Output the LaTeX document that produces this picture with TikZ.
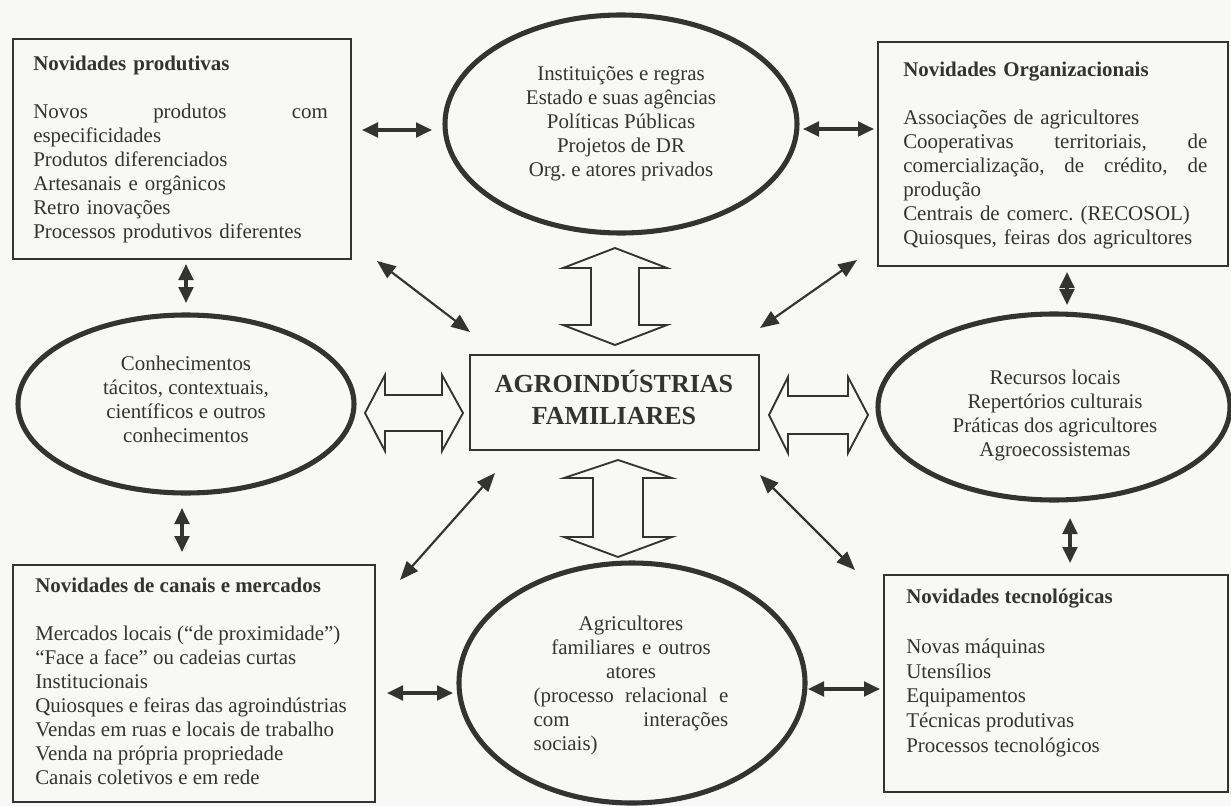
\documentclass[tikz,border=0pt]{standalone}
\usepackage{fontspec}
\setmainfont{Liberation Serif}
\usetikzlibrary{arrows.meta,shapes.geometric,fit,calc}
\definecolor{ink}{HTML}{333333}
\definecolor{paper}{HTML}{F8F8F6}
\frenchspacing
\begin{document}
\begin{tikzpicture}[x=0.75pt,y=-0.75pt,
  box/.style={draw=ink,line width=1.6pt,inner sep=0pt},
  ell/.style={draw=ink,line width=3.8pt,ellipse,inner sep=0pt},
  txt/.style={text=ink,font=\fontsize{15.7}{18}\selectfont,inner sep=0pt,align=left,anchor=north west},
  ctxt/.style={text=ink,font=\fontsize{15.7}{18}\selectfont,inner sep=0pt,align=center},
  link/.style={draw=ink,line width=2.3pt,{Triangle[length=12pt,width=11pt]}-{Triangle[length=12pt,width=11pt]}},
  diag/.style={draw=ink,line width=1.6pt,{Triangle[length=14pt,width=11pt]}-{Triangle[length=14pt,width=11pt]}},
  blk/.style={draw=ink,line width=1.4pt,fill=paper,line join=miter}]
\fill[paper] (0,0) rectangle (1231,806);
\useasboundingbox (0,0) rectangle (1231,806);

% boxes
\node[box,fit={(13,39) (351,259)}] (np) {};
\node[box,fit={(878,42) (1228,266)}] (no) {};
\node[box,fit={(13,565) (375,802)}] (nc) {};
\node[box,fit={(884,575) (1228,792)}] (nt) {};
\node[box,fit={(470,355) (759,450)}] (ai) {};

% ellipses
\node[ell,minimum width=352*0.75pt,minimum height=218*0.75pt] (inst) at (621,124) {};
\node[ell,minimum width=336*0.75pt,minimum height=178*0.75pt] (conh) at (186,404) {};
\node[ell,minimum width=352*0.75pt,minimum height=186*0.75pt] (recu) at (1054,407) {};
\node[ell,minimum width=346*0.75pt,minimum height=240*0.75pt] (agri) at (632,683) {};

% texts
\node[txt,text width=221pt] (npt) at (33,53) {\strut\textbf{Novidades produtivas}\\ \mbox{}\\
 Novos\hfill produtos\hfill com\\ especificidades\\ Produtos diferenciados\\ Artesanais e orgânicos\\
 Retro inovações\\ Processos produtivos diferentes};
\node[txt,text width=228pt] (not) at (903,59) {\strut\textbf{Novidades Organizacionais}\\ \mbox{}\\
 Associações de agricultores\\ Cooperativas\hfill territoriais,\hfill de\\
 comercialização,\hfill de\hfill crédito,\hfill de\\ produção\\
 Centrais de comerc. (RECOSOL)\\ Quiosques, feiras dos agricultores};
\node[txt] (nct) at (35,575) {\strut\textbf{Novidades de canais e mercados}\\ \mbox{}\\
 Mercados locais (“de proximidade”)\\ “Face a face” ou cadeias curtas\\ Institucionais\\
 Quiosques e feiras das agroindústrias\\ Vendas em ruas e locais de trabalho\\
 Venda na própria propriedade\\ Canais coletivos e em rede};
\node[txt,font=\fontsize{15.7}{18.6}\selectfont] (ntt) at (906,586) {\strut\textbf{Novidades tecnológicas}\\ \mbox{}\\
 Novas máquinas\\ Utensílios\\ Equipamentos\\ Técnicas produtivas\\ Processos tecnológicos};

\node[ctxt] (instt) at (621,124) {\strut Instituições e regras\\ Estado e suas agências\\ Políticas Públicas\\
 Projetos de DR\\ Org. e atores privados\strut};
\node[ctxt] (conht) at (186,402) {\strut Conhecimentos\\ tácitos, contextuais,\\ científicos e outros\\ conhecimentos\strut};
\node[ctxt] (recut) at (1055,416) {\strut Recursos locais\\ Repertórios culturais\\ Práticas dos agricultores\\ Agroecossistemas\strut};
\node[ctxt,text width=146pt] (agrit) at (631,686) {\strut Agricultores\\ familiares e outros\\ atores\\
 (processo\hfill relacional\hfill e\\ com\hfill interações\\ sociais)\strut\hfill\mbox{}};
\node[text=ink,font=\fontsize{19.5}{24}\selectfont\bfseries,align=center,inner sep=0pt] (ait) at (614,397)
 {AGROINDÚSTRIAS\\ FAMILIARES};

% short arrows
\coordinate (a1) at (362,130); \coordinate (b1) at (432,130);
\coordinate (a2) at (803,129); \coordinate (b2) at (874,129);
\coordinate (a3) at (186,264); \coordinate (b3) at (186,303);
\coordinate (a4) at (182,508); \coordinate (b4) at (182,552);
\coordinate (a5) at (387,693); \coordinate (b5) at (453,693);
\coordinate (a6) at (808,689); \coordinate (b6) at (880,689);
\coordinate (a7) at (1067,272); \coordinate (b7) at (1067,305);
\coordinate (a8) at (1070,518); \coordinate (b8) at (1070,563);
\foreach \i in {1,...,8} \draw[link] (a\i) -- (b\i);

% diagonal arrows
\coordinate (d1) at (377,261); \coordinate (e1) at (470,332);
\coordinate (d2) at (760,328); \coordinate (e2) at (857,260);
\coordinate (d3) at (400,580); \coordinate (e3) at (495,473);
\coordinate (d4) at (760,475); \coordinate (e4) at (855,570);
\foreach \i in {1,...,4} \draw[diag] (d\i) -- (e\i);

% block arrows
\draw[blk] (615,248) -- (667,268) -- (639,268) -- (639,325) -- (667,325) -- (615,345)
  -- (563,325) -- (591,325) -- (591,268) -- (563,268) -- cycle;
\draw[blk] (618,460) -- (672,478) -- (643,478) -- (643,537) -- (672,537) -- (618,557)
  -- (564,537) -- (593,537) -- (593,478) -- (564,478) -- cycle;
\draw[blk] (365,413) -- (385,375) -- (385,395) -- (442,395) -- (442,375) -- (463,413)
  -- (442,451) -- (442,431) -- (385,431) -- (385,451) -- cycle;
\draw[blk] (769,415) -- (788,377) -- (788,396) -- (848,396) -- (848,377) -- (868,415)
  -- (848,453) -- (848,434) -- (788,434) -- (788,453) -- cycle;
\end{tikzpicture}
\end{document}
